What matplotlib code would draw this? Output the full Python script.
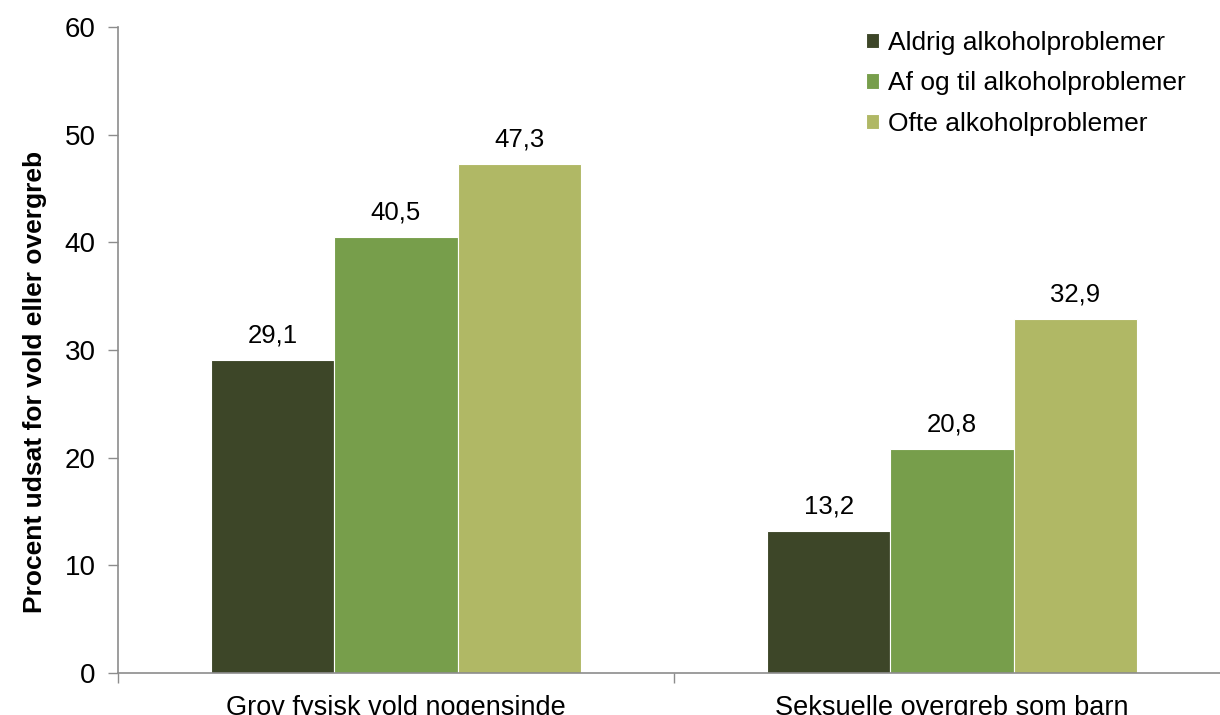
import matplotlib
matplotlib.use("Agg")
import matplotlib.pyplot as plt
import numpy as np

plt.rcParams['font.family'] = ['Liberation Sans', 'DejaVu Sans']

categories = ["Grov fysisk vold nogensinde", "Seksuelle overgreb som barn"]
series_names = ["Aldrig alkoholproblemer", "Af og til alkoholproblemer", "Ofte alkoholproblemer"]
aldrig = [29.1, 13.2]
af_og_til = [40.5, 20.8]
ofte = [47.3, 32.9]
labels_aldrig = ["29,1", "13,2"]
labels_af = ["40,5", "20,8"]
labels_ofte = ["47,3", "32,9"]
yticks = [0, 10, 20, 30, 40, 50, 60]

colors = ["#3d4628", "#779e4b", "#b0b865"]
values = [aldrig, af_og_til, ofte]
texts = [labels_aldrig, labels_af, labels_ofte]

fig = plt.figure(figsize=(12.2, 7.15), dpi=100)
ax = fig.add_axes([118/1220, 1-673/715, 1112/1220, (673-27)/715])

x = np.arange(len(categories))
w = 0.2215
for i, (vals, c, name, lab) in enumerate(zip(values, colors, series_names, texts)):
    bars = ax.bar(x + (i-1)*w, vals, width=w, color=c, edgecolor='white', linewidth=0.8, label=name)
    for b, t in zip(bars, lab):
        ax.annotate(t, (b.get_x()+b.get_width()/2, b.get_height()), xytext=(0, 9),
                    textcoords='offset points', ha='center', va='bottom', fontsize=18.5)

ax.set_xlim(-0.5, 1.5)
ax.set_ylim(0, 60)
ax.set_yticks(yticks)
ax.set_yticklabels([str(v) for v in yticks], fontsize=20)
ax.set_xticks(x)
ax.set_xticklabels(categories, fontsize=19.5)
ax.set_xticks([-0.5, 0.5, 1.5], minor=True)
ax.tick_params(axis='x', which='major', length=0, pad=16)
ax.tick_params(axis='x', which='minor', length=7, color='#8c8c8c', width=1)
ax.tick_params(axis='y', length=7, color='#8c8c8c', width=1, pad=9)
for s in ['top', 'right']:
    ax.spines[s].set_visible(False)
for s in ['left', 'bottom']:
    ax.spines[s].set_color('#8c8c8c')
    ax.spines[s].set_linewidth(1.2)

ax.set_ylabel("Procent udsat for vold eller overgreb", fontsize=19, fontweight='bold')
ax.yaxis.set_label_coords((47-118)/1112, (673-382)/646)

leg = fig.legend(loc='upper left', bbox_to_anchor=(866/1220, 1-31/715), frameon=False, fontsize=19,
                 handlelength=0.5, handleheight=0.5, handletextpad=0.35, labelspacing=0.62,
                 borderaxespad=0.0, borderpad=0.0)

fig.savefig("out.png", dpi=100)
